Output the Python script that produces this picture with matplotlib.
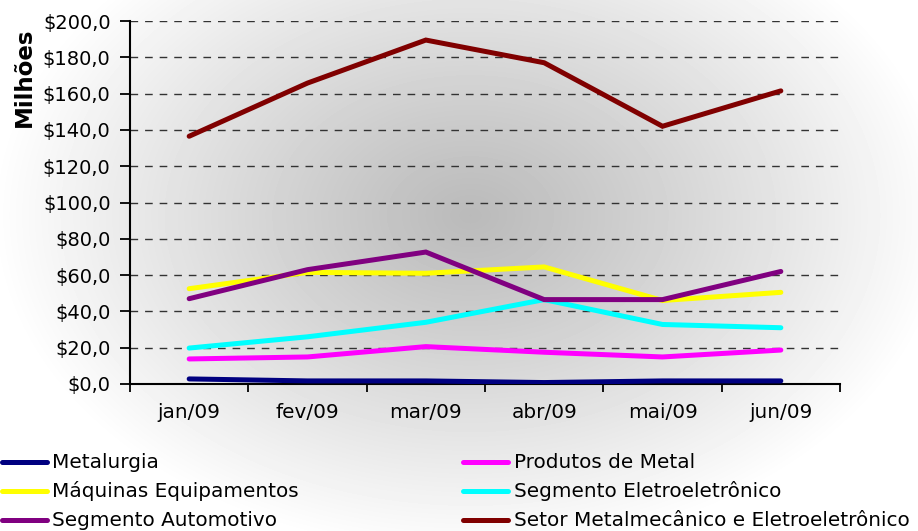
import numpy as np
import matplotlib
matplotlib.use("Agg")
import matplotlib.pyplot as plt
from matplotlib.lines import Line2D

months = ["jan/09", "fev/09", "mar/09", "abr/09", "mai/09", "jun/09"]
metalurgia = [2.8, 1.7, 1.7, 0.8, 1.7, 1.7]
produtos_metal = [13.8, 14.9, 20.6, 17.5, 14.9, 18.7]
maquinas = [52.5, 61.5, 61.0, 64.5, 46.0, 50.5]
eletroeletronico = [19.8, 26.0, 34.0, 46.5, 32.8, 31.0]
automotivo = [47.0, 63.0, 72.7, 46.5, 46.5, 62.0]
setor = [136.5, 165.8, 189.5, 177.0, 142.0, 161.5]

series = [
    ("Metalurgia", metalurgia, "#000080"),
    ("Produtos de Metal", produtos_metal, "#FF00FF"),
    ("Máquinas Equipamentos", maquinas, "#FFFF00"),
    ("Segmento Eletroeletrônico", eletroeletronico, "#00FFFF"),
    ("Segmento Automotivo", automotivo, "#800080"),
    ("Setor Metalmecânico e Eletroeletrônico", setor, "#800000"),
]
yticks = np.arange(0, 201, 20)

W, H = 918, 531
FS = 14.4
fig = plt.figure(figsize=(W / 100, H / 100), dpi=100)

# radial gradient background
bg = fig.add_axes([0, 0, 1, 1], zorder=0)
xx, yy = np.meshgrid(np.arange(W), np.arange(H))
r = np.sqrt(((xx - 470) / 480.0) ** 2 + ((yy - 215) / 340.0) ** 2)
v = 0.73 + (1.0 - 0.73) * np.clip(r, 0, 1) ** 1.1
bg.imshow(v, cmap="gray", vmin=0, vmax=1, aspect="auto", extent=[0, W, H, 0])
bg.axis("off")

ax = fig.add_axes([130 / W, 1 - 384 / H, 710 / W, 363 / H], zorder=1)
ax.patch.set_alpha(0)
x = np.arange(len(months))
for name, vals, col in series:
    ax.plot(x, vals, color=col, lw=3.6, solid_capstyle="round", solid_joinstyle="miter", zorder=3)

ax.set_xlim(-0.5, len(months) - 0.5)
ax.set_ylim(0, 200)
ax.set_yticks(yticks)
ax.set_yticklabels([("$%.1f" % t).replace(".", ",") for t in yticks], fontsize=14)
ax.set_xticks(x)
ax.set_xticklabels(months, fontsize=FS)
ax.set_xticks(np.arange(-0.5, len(months)), minor=True)
ax.tick_params(axis="x", which="major", length=0, pad=14)
ax.tick_params(axis="x", which="minor", length=6, width=1.3, direction="out")
ax.tick_params(axis="y", length=7, width=1.3, direction="out", pad=7)
for t in yticks[1:]:
    ax.axhline(t, color="#333333", lw=1.0, ls=(0, (5.5, 5)), zorder=1)
for s in ["top", "right"]:
    ax.spines[s].set_visible(False)
for s in ["left", "bottom"]:
    ax.spines[s].set_linewidth(1.5)

fig.text(24 / W, 1 - 77 / H, "Milhões", rotation=90, fontsize=16.5, fontweight="bold",
         ha="center", va="center")

# legend (two columns, row-wise)
rows = [462, 491, 520]
cols = [(2, 52), (463, 514)]
for i, (name, vals, col) in enumerate(series):
    rr, cc = divmod(i, 2)
    y = 1 - rows[rr] / H
    x0, xt = cols[cc]
    fig.add_artist(Line2D([x0 / W, (x0 + 45) / W], [y, y], color=col, lw=3.6,
                          solid_capstyle="round", transform=fig.transFigure))
    fig.text(xt / W, y, name, fontsize=FS, va="center", ha="left")

fig.savefig("out.png", dpi=100)
